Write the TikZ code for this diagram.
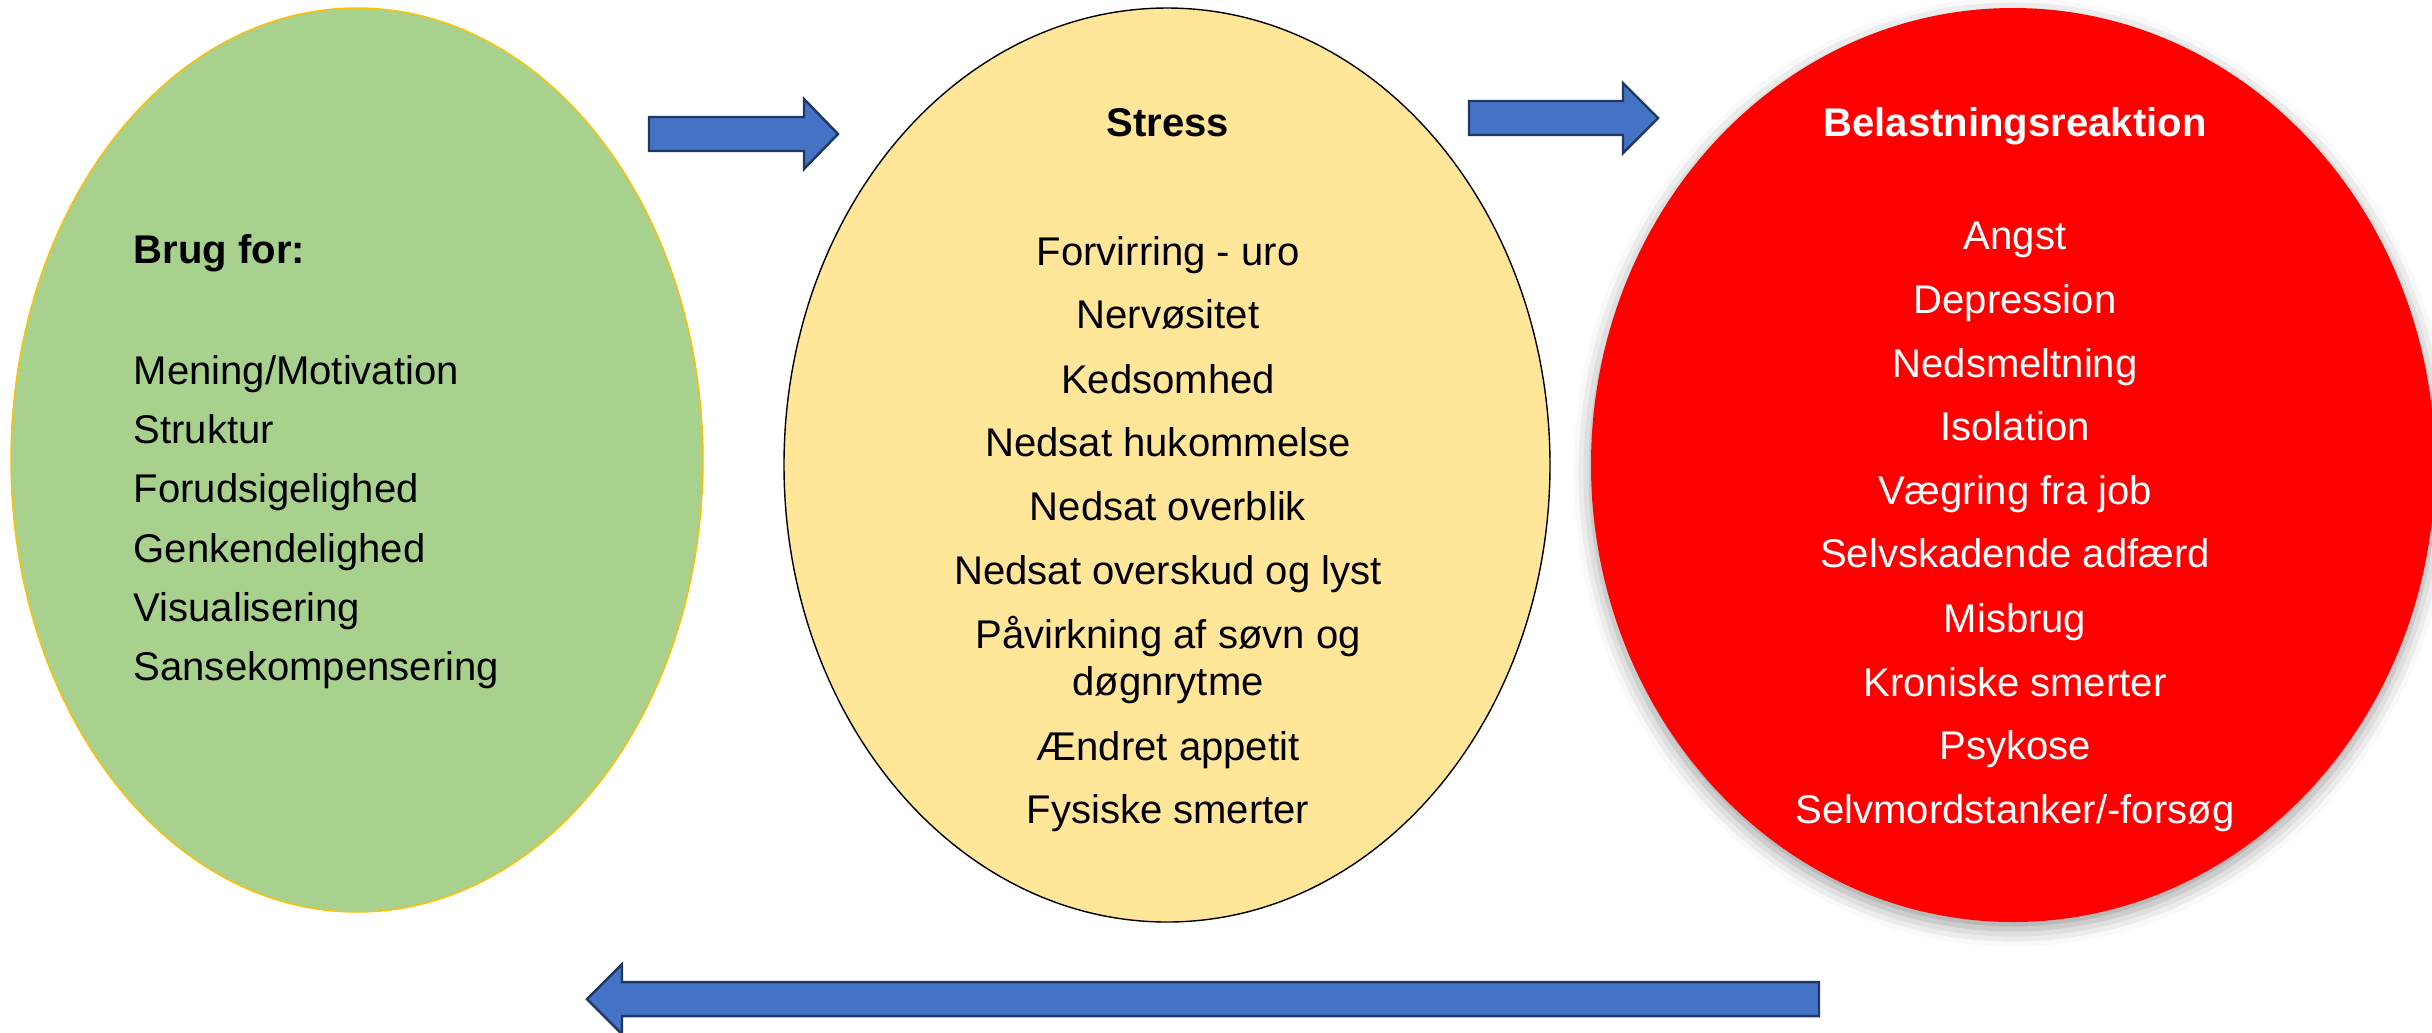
\documentclass[tikz,border=0pt]{standalone}
\usepackage{fontspec}
\setmainfont{Liberation Sans}
\usetikzlibrary{shapes.geometric,shadows.blur}
\definecolor{behovgroen}{HTML}{A9D18E}
\definecolor{behovkant}{HTML}{FFC000}
\definecolor{stressgul}{HTML}{FFE699}
\definecolor{pilblaa}{HTML}{4472C4}
\definecolor{pilkant}{HTML}{203864}
\tikzset{
  boble/.style={ellipse, inner sep=0pt, line width=0.4pt},
  punkt/.style={anchor=base, inner sep=0pt, font=\fontsize{11.4}{14}\selectfont},
  overskrift/.style={punkt, font=\fontsize{11.4}{14}\selectfont\bfseries},
  blokpil/.style={fill=pilblaa, draw=pilkant, line width=0.7pt, line join=miter},
}
% hale, hovedbase, spids, midte
\newcommand{\blaapil}[4]{%
  \draw[blokpil] (#1,{#4+0.17}) -- (#2,{#4+0.17}) -- (#2,{#4+0.35}) -- (#3,#4)
    -- (#2,{#4-0.35}) -- (#2,{#4-0.17}) -- (#1,{#4-0.17}) -- cycle;}

\begin{document}
\begin{tikzpicture}
 \useasboundingbox (0,0) rectangle (24.32,-10.32);
 % boblerne
 \node[boble, fill=behovgroen, draw=behovkant, minimum width=6.92cm, minimum height=9.04cm] (behov) at (3.57,-4.60) {};
 \node[boble, fill=stressgul, draw=black, minimum width=7.66cm, minimum height=9.14cm] (stress) at (11.67,-4.65) {};
 \node[boble, fill=red, minimum width=8.44cm, minimum height=9.14cm,
   blur shadow={shadow xshift=0pt, shadow yshift=-2pt, shadow blur radius=5pt, shadow opacity=40}] (reaktion) at (20.13,-4.65) {};
 % pilene
 \blaapil{6.49}{8.04}{8.38}{-1.34}
 \blaapil{14.69}{16.23}{16.58}{-1.18}
 \blaapil{18.19}{6.22}{5.87}{-9.99}
 % brug for
 \node[overskrift, anchor=base west] (behov0) at (1.33,-2.63) {Brug for:};
 \foreach \y/\txt [count=\i] in {3.84/{Mening/Motivation}, 4.43/Struktur, 5.02/Forudsigelighed,
   5.62/Genkendelighed, 6.21/Visualisering, 6.80/Sansekompensering}
   \node[punkt, anchor=base west] (behov\i) at (1.33,-\y) {\txt};
 % stress
 \node[overskrift] (stress0) at (11.68,-1.36) {Stress};
 \foreach \y/\txt [count=\i] in {2.65/Forvirring - uro, 3.28/Nervøsitet, 3.93/Kedsomhed,
   4.56/Nedsat hukommelse, 5.20/Nedsat overblik, 5.84/Nedsat overskud og lyst,
   6.48/Påvirkning af søvn og, 6.95/døgnrytme, 7.60/Ændret appetit, 8.23/Fysiske smerter}
   \node[punkt] (stress\i) at (11.68,-\y) {\txt};
 % belastningsreaktion
 \node[overskrift, text=white] (reaktion0) at (20.15,-1.36) {Belastningsreaktion};
 \foreach \y/\txt [count=\i] in {2.49/Angst, 3.13/Depression, 3.77/Nedsmeltning, 4.40/Isolation,
   5.04/Vægring fra job, 5.67/Selvskadende adfærd, 6.32/Misbrug, 6.96/Kroniske smerter,
   7.59/Psykose, 8.23/{Selvmordstanker/-forsøg}}
   \node[punkt, text=white] (reaktion\i) at (20.15,-\y) {\txt};
\end{tikzpicture}
\end{document}
